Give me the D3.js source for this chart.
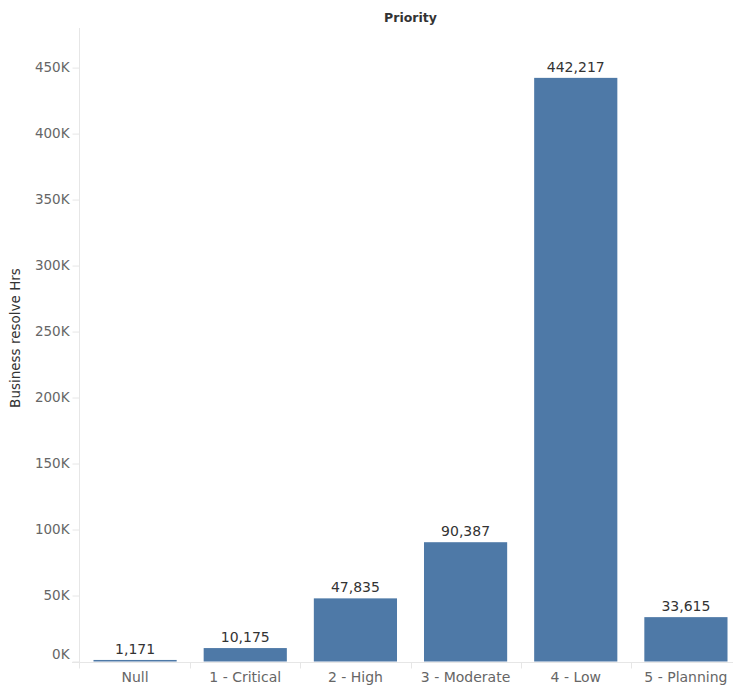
<!DOCTYPE html>
<html>
<head>
<meta charset="utf-8">
<script src="https://cdn.jsdelivr.net/npm/d3@7/dist/d3.min.js"></script>
<style>
  html, body { margin: 0; padding: 0; background: #fff; }
  svg { display: block; font-family: "DejaVu Sans", Verdana, sans-serif; }
</style>
</head>
<body>
<svg id="chart" width="733" height="691"></svg>
<script>
// Business resolve hours by priority
const categories = ["Null", "1 - Critical", "2 - High", "3 - Moderate", "4 - Low", "5 - Planning"];
const hours = [1171, 10175, 47835, 90387, 442217, 33615];
const yTicks = [0, 50000, 100000, 150000, 200000, 250000, 300000, 350000, 400000, 450000];

const svg = d3.select("#chart");
const plotLeft = 80, plotRight = 741, plotTop = 28, plotBottom = 661.5;

const x = d3.scaleBand().domain(categories).range([plotLeft, plotRight]).paddingInner(0.245).paddingOuter(0.1225);
const y = d3.scaleLinear().domain([0, 480000]).range([plotBottom, plotTop]);

const axisColor = "#e6e6e6";
const labelColor = "#666";
const fontFamily = "'DejaVu Sans', Verdana, sans-serif";

// column header
svg.append("text")
  .attr("x", (plotLeft + plotRight) / 2).attr("y", 22)
  .attr("text-anchor", "middle")
  .attr("font-size", 12.5).attr("font-weight", "bold").attr("fill", "#333")
  .text("Priority");

// y axis title
svg.append("text")
  .attr("transform", `translate(20,338) rotate(-90)`)
  .attr("text-anchor", "middle")
  .attr("font-size", 13.5).attr("fill", "#333")
  .text("Business resolve Hrs");

// y axis
const yAxis = d3.axisLeft(y).tickValues(yTicks).tickSize(7).tickPadding(3)
  .tickFormat(d => d3.format("d")(d / 1000) + "K");
const gy = svg.append("g").attr("transform", `translate(${plotLeft - 0.5},0)`).call(yAxis);
gy.select(".domain").remove();
gy.selectAll(".tick line").attr("stroke", axisColor);
gy.selectAll(".tick text").attr("font-size", 13.5).attr("fill", labelColor)
  .attr("font-family", fontFamily)
  .attr("dy", d => d === 0 ? "-0.2em" : "0.32em");

// y axis line
svg.append("line")
  .attr("x1", plotLeft - 0.5).attr("x2", plotLeft - 0.5)
  .attr("y1", plotTop).attr("y2", plotBottom + 7)
  .attr("stroke", axisColor);

// x axis baseline and column separators
svg.append("line")
  .attr("x1", plotLeft - 8).attr("x2", 733)
  .attr("y1", plotBottom + 1).attr("y2", plotBottom + 1)
  .attr("stroke", axisColor);
const step = x.step();
categories.slice(1).forEach(c => {
  const sx = Math.round(x(c) - x.paddingInner() * step / 2) + 0.5;
  svg.append("line")
    .attr("x1", sx).attr("x2", sx)
    .attr("y1", plotBottom + 1).attr("y2", plotBottom + 7)
    .attr("stroke", axisColor);
});

// category labels
svg.append("g").selectAll("text").data(categories).join("text")
  .attr("x", d => x(d) + x.bandwidth() / 2)
  .attr("y", 682)
  .attr("text-anchor", "middle")
  .attr("font-size", 14).attr("fill", labelColor)
  .text(d => d);

// bars
const data = categories.map((c, i) => ({ c, v: hours[i] }));
svg.append("g").selectAll("rect").data(data).join("rect")
  .attr("x", d => x(d.c))
  .attr("width", x.bandwidth())
  .attr("y", d => y(d.v))
  .attr("height", d => Math.max(1.5, plotBottom - y(d.v)))
  .attr("fill", "#4e79a7");

// value labels
svg.append("g").selectAll("text").data(data).join("text")
  .attr("x", d => x(d.c) + x.bandwidth() / 2)
  .attr("y", d => Math.min(y(d.v), plotBottom - 1.5) - 6)
  .attr("text-anchor", "middle")
  .attr("font-size", 14).attr("fill", "#333")
  .text(d => d3.format(",")(d.v));
</script>
</body>
</html>
